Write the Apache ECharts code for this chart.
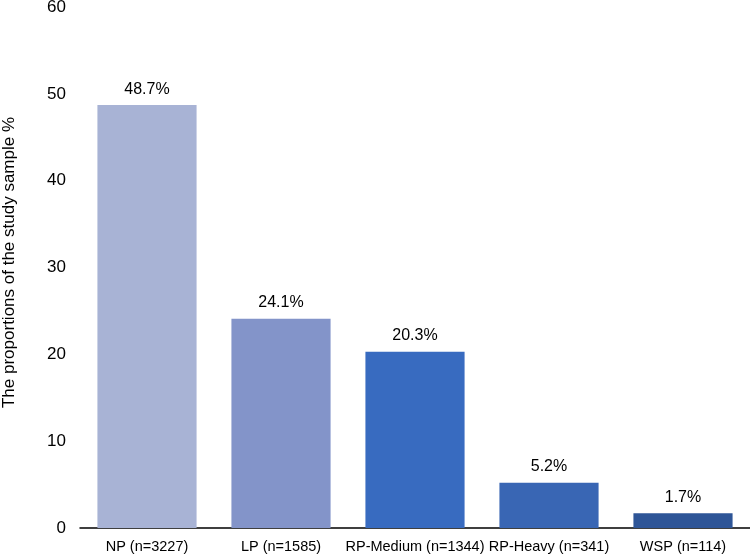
<!DOCTYPE html>
<html>
<head>
<meta charset="utf-8">
<script src="https://cdn.jsdelivr.net/npm/echarts@6/dist/echarts.min.js"></script>
<style>html,body{margin:0;padding:0;background:#fff}#c{width:750px;height:556px}</style>
</head>
<body>
<div id="c"></div>
<script>
const categories = ["NP (n=3227)", "LP (n=1585)", "RP-Medium (n=1344)", "RP-Heavy (n=341)", "WSP (n=114)"];
const values = [48.7, 24.1, 20.3, 5.2, 1.7];
const barColors = ["#A8B3D5", "#8394C9", "#386BC0", "#3966B4", "#2E5597"];
const yTicks = [0, 10, 20, 30, 40, 50, 60];
const yTitle = "The proportions of the study sample %";

const chart = echarts.init(document.getElementById('c'), null, {renderer: 'canvas'});
chart.setOption({
  animation: false,
  grid: {left: 80, right: 0, top: 7, bottom: 28, outerBoundsMode: 'none', containLabel: false},
  xAxis: {
    type: 'category',
    data: categories,
    axisLine: {lineStyle: {color: '#000', width: 1.5}},
    axisTick: {show: false},
    axisLabel: {color: '#000', fontSize: 14.5, fontFamily: 'Liberation Sans, Arial', margin: 11, interval: 0}
  },
  yAxis: {
    type: 'value',
    min: yTicks[0],
    max: yTicks[yTicks.length - 1],
    interval: 10,
    name: yTitle,
    nameLocation: 'middle',
    nameGap: 62,
    nameTextStyle: {color: '#000', fontSize: 17, fontFamily: 'Liberation Sans, Arial', padding: [0, 0, 0, 10]},
    axisLine: {show: false},
    axisTick: {show: false},
    splitLine: {show: false},
    axisLabel: {color: '#000', fontSize: 17, fontFamily: 'Liberation Sans, Arial', margin: 14}
  },
  series: [{
    type: 'bar',
    barWidth: '74%',
    data: values.map((v, i) => ({value: v, itemStyle: {color: barColors[i]}})),
    label: {
      show: true,
      position: 'top',
      distance: 8,
      color: '#000',
      fontSize: 16,
      fontFamily: 'Liberation Sans, Arial',
      formatter: p => p.value + '%'
    }
  }]
});
</script>
</body>
</html>
